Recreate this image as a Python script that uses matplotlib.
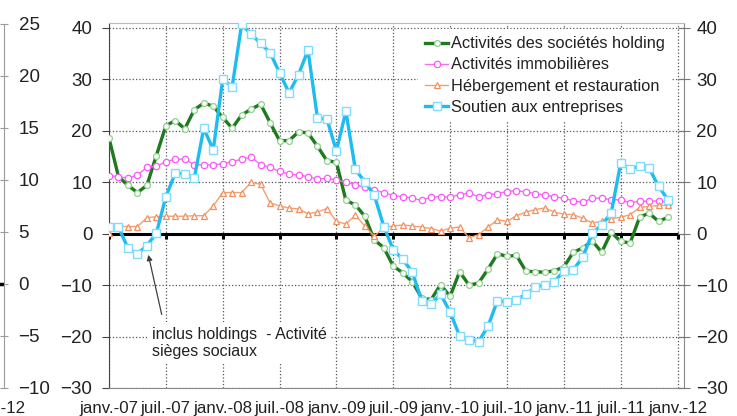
import matplotlib
matplotlib.use('Agg')
import matplotlib.pyplot as plt
import numpy as np

plt.rcParams['font.family'] = ['Liberation Sans', 'DejaVu Sans']

tick_labels = ['janv.-07', 'juil.-07', 'janv.-08', 'juil.-08', 'janv.-09', 'juil.-09',
               'janv.-10', 'juil.-10', 'janv.-11', 'juil.-11', 'janv.-12']

holding = [18.6, 11.1, 9.4, 8.0, 9.4, 15.2, 21.0, 22.0, 20.4, 24.1,
           25.4, 24.8, 22.6, 20.5, 23.1, 24.2, 25.2, 21.6, 18.1, 18.1,
           19.8, 19.6, 17.0, 14.2, 13.9, 6.5, 5.6, 3.4, -1.2, -2.7,
           -6.3, -7.6, -9.3, -12.5, -12.8, -9.9, -12.2, -7.4, -10.0, -9.6,
           -6.9, -3.9, -4.4, -4.2, -7.3, -7.4, -7.5, -7.2, -6.5, -3.6,
           -2.8, -1.4, -3.6, 0.3, -1.5, -1.8, 3.2, 4.0, 2.4, 3.2]

immo = [11.3, 11.1, 10.8, 11.4, 12.9, 13.1, 14.0, 14.5, 14.5, 13.4,
        13.4, 13.4, 13.6, 14.0, 14.5, 14.9, 13.4, 12.9, 12.1, 11.6,
        11.4, 11.1, 10.6, 10.8, 10.4, 10.0, 9.5, 9.0, 8.5, 8.0,
        7.4, 7.2, 6.9, 6.5, 7.1, 7.2, 7.1, 7.6, 7.9, 7.2,
        7.6, 7.8, 8.2, 8.4, 8.1, 7.8, 7.5, 7.2, 6.9, 6.4,
        6.1, 6.9, 6.9, 6.6, 6.6, 6.0, 6.3, 6.3, 6.4, 6.0]

heberg = [0.1, 1.4, 1.4, 1.4, 3.1, 3.3, 3.4, 3.4, 3.4, 3.5,
          3.5, 5.4, 8.0, 8.0, 8.0, 10.0, 9.6, 6.0, 5.4, 5.0,
          4.8, 3.9, 4.2, 4.9, 2.4, 1.9, 3.6, 1.5, -0.5, 1.2,
          1.5, 1.7, 1.5, 1.3, 1.0, 0.5, 1.1, 1.3, -0.8, -0.2,
          1.3, 2.7, 2.4, 3.5, 4.2, 4.7, 5.0, 4.2, 3.8, 3.7,
          3.0, 2.1, 2.4, 2.9, 3.2, 3.7, 5.1, 5.3, 5.5, 5.5]

soutien = [1.3, 1.3, -2.8, -3.9, -2.3, 0.1, 7.2, 11.8, 11.6, 10.8,
           20.5, 16.3, 30.0, 28.6, 40.7, 38.8, 37.0, 35.2, 31.3, 27.4,
           30.9, 35.7, 22.5, 22.3, 16.1, 23.8, 12.5, 10.1, 7.5, 1.4,
           -3.1, -5.0, -7.4, -13.0, -13.7, -11.8, -15.2, -19.9, -20.6, -21.0,
           -18.0, -13.0, -13.3, -12.8, -11.8, -10.4, -9.9, -9.3, -7.3, -7.0,
           -4.6, 0.1, 1.7, 4.0, 13.7, 12.6, 13.1, 12.8, 9.2, 6.6]

labels = ['Activités des sociétés holding', 'Activités immobilières',
          'Hébergement et restauration', 'Soutien aux entreprises']

frag_ticks = [25, 20, 15, 10, 5, 0, -5, -10]

W, H = 737, 416
fig = plt.figure(figsize=(W / 100, H / 100), dpi=100)

# ---------- fragment of the previous chart at the left edge ----------
fa = fig.add_axes([-60 / W, 1 - 388 / H, 64 / W, (388 - 24) / H])
fa.set_ylim(-10, 25)
fa.set_xlim(0, 1)
fa.patch.set_alpha(0)
for s in ['left', 'top', 'bottom']:
    fa.spines[s].set_visible(False)
fa.spines['right'].set_color('#9a9a9a')
fa.set_xticks([])
fa.yaxis.tick_right()
fa.set_yticks(frag_ticks)
fa.tick_params(axis='y', direction='inout', length=6, color='#9a9a9a',
               labelsize=13.5, pad=7.5, labelcolor='#222222')
fa.axhline(0, color='black', lw=2.5)
fig.text(26 / W, 1 - 408 / H, tick_labels[-1], ha='right', va='center',
         fontsize=12.2, color='#222222')

# ---------- main chart ----------
L, R, B, T = 109, 684, 388, 23
ax = fig.add_axes([L / W, 1 - B / H, (R - L) / W, (B - T) / H])
n = len(holding)
x = np.arange(n)
ax.set_xlim(0, (R - L) / 9.475)
ax.set_ylim(-30, -30 + (B - T) / 5.143)

xt = np.arange(0, 6 * len(tick_labels), 6)
ax.set_xticks(xt)
ax.set_xticklabels(tick_labels, fontsize=12.2, color='#222222')
ax.tick_params(axis='x', length=0, pad=9)
yt = np.arange(-30, 41, 10)
ax.set_yticks(yt)
ax.tick_params(axis='y', direction='out', length=5, color='#444444',
               labelsize=13.5, pad=7, labelcolor='#222222')
ax.grid(True, ls=':', color='#555555', lw=0.9)
ax.set_axisbelow(True)
ax.spines['left'].set_color('#444444')
ax.spines['right'].set_color('#888888')
ax.spines['top'].set_color('#bbbbbb')
ax.spines['bottom'].set_color('#888888')

axr = ax.twinx()
axr.set_ylim(ax.get_ylim())
axr.set_yticks(yt)
axr.tick_params(axis='y', direction='inout', length=8, color='#777777',
                labelsize=13.5, pad=5, labelcolor='#222222')
for s in axr.spines.values():
    s.set_visible(False)

# zero axis line with its tick marks
ax.hlines(0, xt[0], xt[-1], color='black', lw=2.2, zorder=3)
ax.vlines(xt, -1.1, 0, color='black', lw=2.2, zorder=3)

ax.plot(x, holding, color='#1f7a1f', lw=2.4, marker='o', ms=4.2, mfc='white',
        mec='#8fd08f', mew=0.9, label=labels[0], zorder=4)
ax.plot(x, immo, color='#f070f0', lw=1.0, marker='o', ms=4.6, mfc='white',
        mec='#ff55ff', mew=0.9, label=labels[1], zorder=4)
ax.plot(x, heberg, color='#f4a070', lw=1.0, marker='^', ms=5, mfc='white',
        mec='#f49060', mew=0.9, label=labels[2], zorder=4)
ax.plot(x, soutien, color='#1ebcf0', lw=2.4, marker='s', ms=6, mfc='white',
        mec='#80dcff', mew=1.0, label=labels[3], zorder=5)

leg = ax.legend(loc='upper left', bbox_to_anchor=(418 / W, 1 - 29 / H),
                bbox_transform=fig.transFigure, frameon=True, fancybox=False,
                facecolor='white', edgecolor='none', framealpha=1,
                fontsize=11.8, handlelength=1.4, handletextpad=0.15,
                labelspacing=0.37, borderpad=0.45, borderaxespad=0)
for t in leg.get_texts():
    t.set_color('#222222')
leg.set_zorder(6)

ax.annotate('', xy=(4.15, -4.1), xytext=(5.56, -15.7),
            arrowprops=dict(arrowstyle='-|>', color='#404040', lw=0.9,
                            mutation_scale=8, shrinkA=0, shrinkB=0), zorder=6)
ax.text(4.5, -21.2, 'inclus holdings  - Activité\nsièges sociaux',
        fontsize=11.5, ha='left', va='center', color='#222222',
        linespacing=1.2, zorder=6,
        bbox=dict(facecolor='white', edgecolor='none', pad=3))

fig.savefig('out.png', dpi=100)
